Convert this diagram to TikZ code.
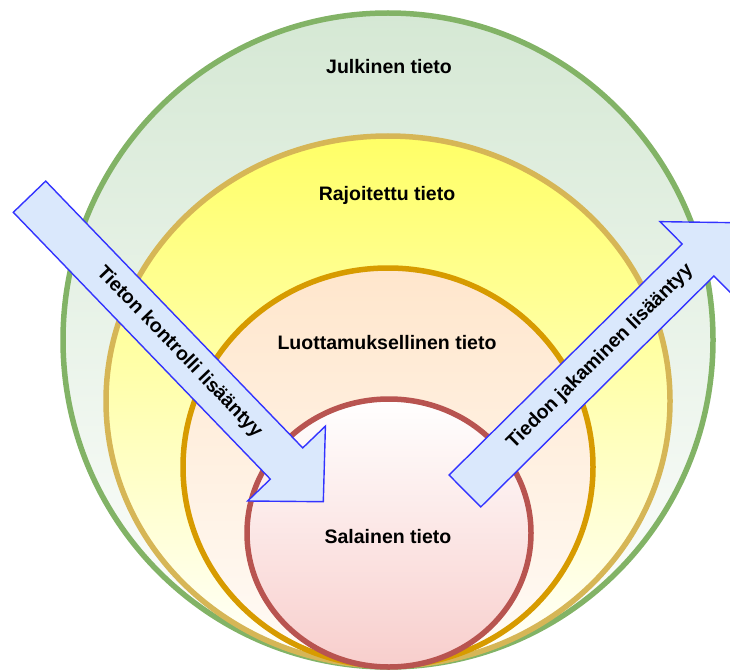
\documentclass[tikz,border=0pt]{standalone}
\usepackage{fontspec}
\setmainfont{Liberation Sans}
\usetikzlibrary{calc}

\definecolor{ringgreen}{HTML}{82B366}
\definecolor{fillgreen}{HTML}{D5E8D4}
\definecolor{ringyellow}{HTML}{D6B656}
\definecolor{fillyellow}{HTML}{FFFF66}
\definecolor{ringorange}{HTML}{D79B00}
\definecolor{fillorange}{HTML}{FFE6CC}
\definecolor{ringred}{HTML}{B85450}
\definecolor{fillred}{HTML}{F8CECC}
\definecolor{arrowline}{HTML}{3333FF}
\definecolor{arrowfill}{HTML}{DAE8FC}

\tikzset{
  ring/.style={line width=5.5pt},
  zonelabel/.style={font=\bfseries\fontsize{19.5}{22}\selectfont, text=black, inner sep=0pt},
  arrowshape/.style={draw=arrowline, fill=arrowfill, line width=1.4pt, line join=miter},
  arrowlabel/.style={font=\bfseries\fontsize{19.5}{22}\selectfont, text=black, inner sep=0pt, sloped}
}

\begin{document}
\begin{tikzpicture}[x=1pt, y=-1pt]
  \useasboundingbox (0,0) rectangle (730,671);
  \clip (0,0) rectangle (730,671);

  % nested zones, outermost first
  \path[ring, draw=ringgreen, top color=fillgreen, bottom color=white]
    (388,340) ellipse [x radius=325, y radius=327];
  \path[ring, draw=ringyellow, top color=fillyellow, bottom color=white]
    (388,401) ellipse [x radius=282, y radius=265];
  \path[ring, draw=ringorange, top color=fillorange, bottom color=fillorange!15]
    (388,467) ellipse [x radius=205, y radius=199];
  \path[ring, draw=ringred, top color=white, bottom color=fillred]
    (389,533) ellipse [x radius=142, y radius=134];

  \node[zonelabel] (julkinen) at (389,67) {Julkinen tieto};
  \node[zonelabel] (rajoitettu) at (387,195) {Rajoitettu tieto};
  \node[zonelabel] (luottamuksellinen) at (387,343) {Luottamuksellinen tieto};
  \node[zonelabel] (salainen) at (388,537) {Salainen tieto};

  % inward arrow: tail centre, tip, head base
  \coordinate (T1) at (29.5,196.7);
  \coordinate (P1) at (323.3,501.7);
  \coordinate (B1) at ($(P1)!53pt!(T1)$);
  \coordinate (T1a) at ($(T1)!22.5pt!90:(P1)$);
  \coordinate (T1b) at ($(T1)!22.5pt!-90:(P1)$);
  \coordinate (B1a) at ($(B1)!22.5pt!90:(P1)$);
  \coordinate (B1b) at ($(B1)!22.5pt!-90:(P1)$);
  \coordinate (H1a) at ($(B1)!54pt!90:(P1)$);
  \coordinate (H1b) at ($(B1)!54pt!-90:(P1)$);
  \path[arrowshape] (T1a) -- (B1a) -- (H1a) -- (P1) -- (H1b) -- (B1b) -- (T1b) -- cycle;
  \path (T1) -- (P1) node[arrowlabel, pos=0.51] (kontrolli) {Tieton kontrolli lisääntyy};

  % outward arrow
  \coordinate (T2) at (464.9,491);
  \coordinate (P2) at (735.7,222.7);
  \coordinate (B2) at ($(P2)!53pt!(T2)$);
  \coordinate (T2a) at ($(T2)!22.5pt!90:(P2)$);
  \coordinate (T2b) at ($(T2)!22.5pt!-90:(P2)$);
  \coordinate (B2a) at ($(B2)!22.5pt!90:(P2)$);
  \coordinate (B2b) at ($(B2)!22.5pt!-90:(P2)$);
  \coordinate (H2a) at ($(B2)!54pt!90:(P2)$);
  \coordinate (H2b) at ($(B2)!54pt!-90:(P2)$);
  \path[arrowshape] (T2a) -- (B2a) -- (H2a) -- (P2) -- (H2b) -- (B2b) -- (T2b) -- cycle;
  \path (T2) -- (P2) node[arrowlabel, midway] (jakaminen) {Tiedon jakaminen lisääntyy};
\end{tikzpicture}
\end{document}
